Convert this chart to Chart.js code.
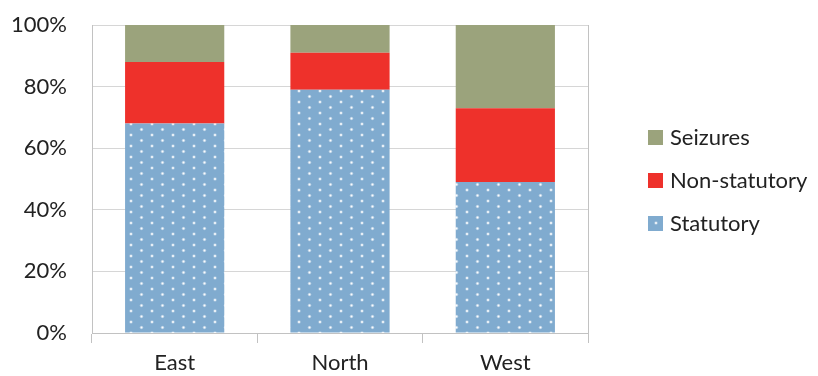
<!DOCTYPE html>
<html>
<head>
<meta charset="utf-8">
<script src="https://cdn.jsdelivr.net/npm/chart.js@4.4.1/dist/chart.umd.min.js"></script>
<style>
  html, body { margin: 0; padding: 0; background: #ffffff; }
  #wrap { width: 818px; height: 376px; }
</style>
</head>
<body>
<div id="wrap"><canvas id="c" width="818" height="376"></canvas></div>
<script>
// Share of cases by region (percent of total)
const regions = ['East', 'North', 'West'];
const statutory = [68, 79, 49];
const nonStatutory = [20, 12, 24];
const seizures = [12, 9, 27];
const yTickValues = [0, 20, 40, 60, 80, 100];

const FONT = 'Lato, "Open Sans", "Liberation Sans", sans-serif';
const FONT_SIZE = 22;
const TEXT = '#222222';
const GRID = '#d6d6d6';
const AXIS = '#c2c2c2';

// Blue fill with small white dots on a staggered lattice
function dottedFill(base) {
  const t = document.createElement('canvas');
  t.width = 21; t.height = 11;
  const g = t.getContext('2d');
  g.fillStyle = base;
  g.fillRect(0, 0, 21, 11);
  const dot = (x, y) => {
    g.fillStyle = 'rgba(255,255,255,0.35)';
    g.beginPath(); g.arc(x, y, 1.8, 0, Math.PI * 2); g.fill();
    g.fillStyle = 'rgba(255,255,255,0.95)';
    g.beginPath(); g.arc(x, y, 1.0, 0, Math.PI * 2); g.fill();
  };
  dot(5, 3);
  dot(15.5, 8.5);
  return g.createPattern(t, 'repeat');
}

// Right-hand plot border and the side legend
const frameAndLegend = {
  id: 'frameAndLegend',
  beforeDatasetsDraw(chart) {
    const { ctx, chartArea: a } = chart;
    ctx.save();
    ctx.strokeStyle = AXIS;
    ctx.lineWidth = 1;
    ctx.beginPath();
    ctx.moveTo(Math.round(a.right) + 0.5, a.top);
    ctx.lineTo(Math.round(a.right) + 0.5, a.bottom);
    ctx.stroke();
    ctx.restore();
  },
  afterDraw(chart) {
    const { ctx, chartArea: a } = chart;
    const items = chart.data.datasets.slice().reverse();
    const x = a.right + 60;
    const cy = (a.top + a.bottom) / 2 + 2;
    ctx.save();
    ctx.font = FONT_SIZE + 'px ' + FONT;
    ctx.textBaseline = 'middle';
    ctx.textAlign = 'left';
    items.forEach((d, i) => {
      const y = Math.round(cy + (i - 1) * 43);
      ctx.fillStyle = d.backgroundColor;
      ctx.fillRect(x, y - 8, 15, 15);
      ctx.fillStyle = TEXT;
      ctx.fillText(d.label, x + 22, y);
    });
    ctx.restore();
  }
};

const ctx = document.getElementById('c').getContext('2d');
new Chart(ctx, {
  type: 'bar',
  data: {
    labels: regions,
    datasets: [
      { label: 'Statutory', data: statutory, backgroundColor: dottedFill('#80abcf') },
      { label: 'Non-statutory', data: nonStatutory, backgroundColor: '#ee312b' },
      { label: 'Seizures', data: seizures, backgroundColor: '#9ba37c' }
    ]
  },
  options: {
    responsive: false,
    animation: false,
    devicePixelRatio: 1,
    layout: { padding: { top: 25, right: 230, left: 0, bottom: 0 } },
    datasets: {
      bar: { barPercentage: 0.6, categoryPercentage: 1.0, borderWidth: 0 }
    },
    plugins: {
      legend: { display: false },
      tooltip: { enabled: false }
    },
    scales: {
      x: {
        stacked: true,
        grid: {
          offset: true,
          drawOnChartArea: false,
          drawTicks: true,
          tickLength: 10,
          color: AXIS
        },
        border: { display: true, color: AXIS },
        ticks: { color: TEXT, font: { family: FONT, size: FONT_SIZE }, padding: 7 },
        afterFit(s) { s.height = 43; s.paddingLeft = 0; s.paddingRight = 0; }
      },
      y: {
        stacked: true,
        min: 0,
        max: 100,
        afterBuildTicks(s) { s.ticks = yTickValues.map(v => ({ value: v })); },
        grid: { color: GRID, drawTicks: false },
        border: { display: true, color: AXIS },
        ticks: {
          color: TEXT,
          font: { family: FONT, size: FONT_SIZE },
          padding: 25,
          callback: v => v + '%'
        },
        afterFit(s) { s.width = 92; s.paddingTop = 0; s.paddingBottom = 0; }
      }
    }
  },
  plugins: [frameAndLegend]
});
</script>
</body>
</html>
